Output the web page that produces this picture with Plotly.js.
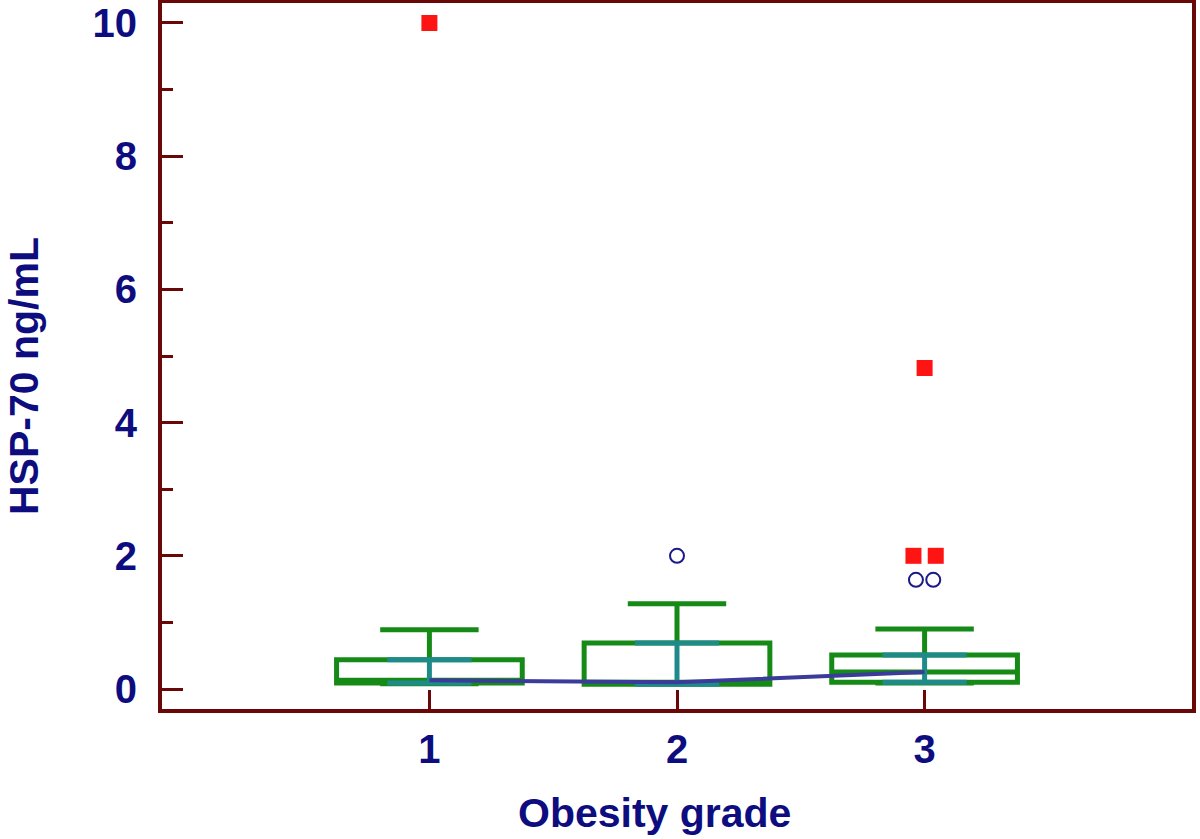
<!DOCTYPE html>
<html>
<head>
<meta charset="utf-8">
<script src="https://cdn.plot.ly/plotly-3.0.1.min.js"></script>
<style>html,body{margin:0;padding:0;background:#fff;}#chart{width:1200px;height:839px;}</style>
</head>
<body>
<div id="chart"></div>
<script>
// Data
var grades = [1, 2, 3];
var tickLabels = ["1", "2", "3"];
var q1 = [0.09, 0.07, 0.10];
var medians = [0.13, 0.10, 0.255];
var q3 = [0.44, 0.69, 0.51];
var lowerFence = [0.08, 0.07, 0.09];
var upperFence = [0.89, 1.28, 0.90];

// far outliers (red squares)
var farX = [1, 3, 2.955, 3.045];
var farY = [10.0, 4.82, 2.0, 2.0];
// outside values (open circles)
var outX = [2, 2.965, 3.035];
var outY = [2.0, 1.64, 1.64];

var navy = "#0d0d80";
var axisRed = "#6a0808";
var green = "#168a16";
var teal = "#1f8a8a";
var blueLine = "#3b3b9b";
var fontFam = "Liberation Sans, Arial, sans-serif";

var traces = [];
traces.push({
  type: "box",
  x: grades,
  q1: q1, median: medians, q3: q3,
  lowerfence: lowerFence, upperfence: upperFence,
  boxpoints: false,
  width: 0.75,
  whiskerwidth: 0.53,
  line: {color: green, width: 5},
  fillcolor: "rgba(0,0,0,0)",
  showlegend: false,
  hoverinfo: "skip"
});

// teal central segments (inner part of box edges and vertical centre line)
var half = 0.17;
var tx = [], ty = [];
for (var i = 0; i < grades.length; i++) {
  tx.push(grades[i] - half, grades[i] + half, null);
  ty.push(q3[i], q3[i], null);
  tx.push(grades[i] - half, grades[i] + half, null);
  ty.push(q1[i], q1[i], null);
  tx.push(grades[i], grades[i], null);
  ty.push(q1[i], q3[i], null);
}
traces.push({
  type: "scatter", mode: "lines", x: tx, y: ty,
  line: {color: teal, width: 5}, showlegend: false, hoverinfo: "skip"
});

// median connecting line
traces.push({
  type: "scatter", mode: "lines", x: grades, y: medians,
  line: {color: blueLine, width: 4}, showlegend: false
});

traces.push({
  type: "scatter", mode: "markers", x: outX, y: outY,
  marker: {symbol: "circle-open", size: 14, color: "#1a1a88", line: {width: 2, color: "#1a1a88"}},
  showlegend: false
});
traces.push({
  type: "scatter", mode: "markers", x: farX, y: farY,
  marker: {symbol: "square", size: 16, color: "#ff1414"},
  showlegend: false
});

var layout = {
  width: 1200, height: 839,
  margin: {l: 162, r: 8, t: 3, b: 130},
  paper_bgcolor: "#fff", plot_bgcolor: "#fff",
  showlegend: false,
  font: {family: fontFam, color: navy},
  xaxis: {
    range: [-0.08, 4.08],
    tickvals: grades, ticktext: tickLabels,
    ticks: "inside", ticklen: 19, tickwidth: 3, tickcolor: axisRed,
    showline: true, linecolor: axisRed, linewidth: 4, mirror: true,
    showgrid: false, zeroline: false,
    tickfont: {family: fontFam, size: 40, color: navy, weight: "bold"},
    ticklabelstandoff: 2
  },
  yaxis: {
    range: [-0.3, 10.3],
    tickvals: [0, 2, 4, 6, 8, 10],
    ticks: "inside", ticklen: 21, tickwidth: 3, tickcolor: axisRed,
    minor: {tickvals: [1, 3, 5, 7, 9], ticks: "inside", ticklen: 11, tickwidth: 3, tickcolor: axisRed},
    showline: true, linecolor: axisRed, linewidth: 4, mirror: true,
    showgrid: false, zeroline: false,
    tickfont: {family: fontFam, size: 40, color: navy, weight: "bold"},
    ticklabelstandoff: 13
  },
  annotations: [
    {text: "<b>Obesity grade</b>", xref: "paper", yref: "paper",
     x: (654 - 162) / 1030, y: -(813 - 709) / 706, xanchor: "center", yanchor: "middle",
     showarrow: false, font: {family: fontFam, size: 41, color: navy}},
    {text: "<b>HSP-70 ng/mL</b>", xref: "paper", yref: "paper", textangle: -90,
     x: -(162 - 24) / 1030, y: (709 - 376) / 706, xanchor: "center", yanchor: "middle",
     showarrow: false, font: {family: fontFam, size: 41, color: navy}}
  ]
};

Plotly.newPlot("chart", traces, layout, {displayModeBar: false, staticPlot: true});
</script>
</body>
</html>
